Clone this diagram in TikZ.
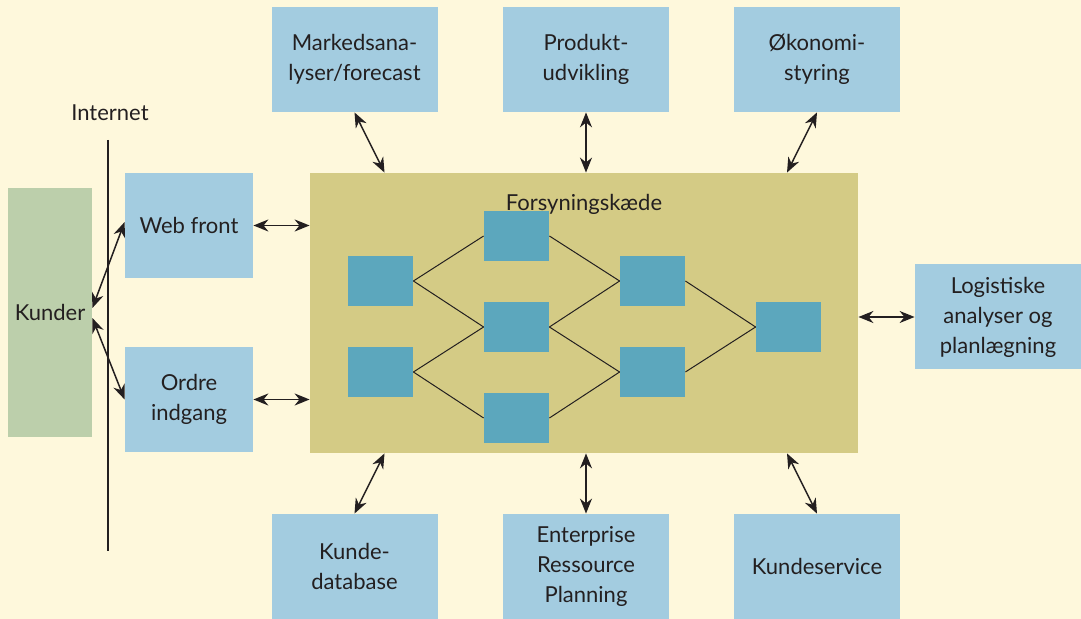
\documentclass[tikz,border=0pt]{standalone}
\usepackage{fontspec}
\setmainfont{Lato}
\usetikzlibrary{arrows.meta}

\definecolor{cream}{HTML}{FEF8DC}
\definecolor{boxblue}{HTML}{A3CCE0}
\definecolor{kundegreen}{HTML}{BCCFAB}
\definecolor{chainolive}{HTML}{D4CB85}
\definecolor{sqblue}{HTML}{5CA7BD}
\definecolor{ink}{HTML}{231F20}

\begin{document}
\begin{tikzpicture}[x=0.5pt,y=-0.5pt,>={Stealth[length=7.5pt,width=6pt]}]
  \useasboundingbox[fill=cream] (0,0) rectangle (1081,619);
  \tikzstyle{every node}=[rectangle,inner sep=0pt,text=ink,align=center,
                          font=\fontsize{11}{15}\selectfont]
  \tikzstyle{infobox}=[fill=boxblue,minimum width=83pt,minimum height=52.5pt]
  \tikzstyle{smallbox}=[fill=boxblue,minimum width=64pt,minimum height=52.5pt]
  \tikzstyle{unit}=[fill=sqblue,minimum width=32.5pt,minimum height=25pt]

%% outer boxes
  \node[infobox] (markeds)  at (354.5,59.5) {Markedsana-\\lyser/forecast};
  \node[infobox] (produkt)  at (586  ,59.5) {Produkt-\\udvikling};
  \node[infobox] (oekonomi) at (817  ,59.5) {Økonomi-\\styring};
  \node[infobox] (kunde-db) at (354.5,566.5) {Kunde-\\database};
  \node[infobox] (erp)      at (586  ,566.5) {Enterprise\\Ressource\\Planning};
  \node[infobox] (service)  at (817  ,566.5) {Kundeservice};
  \node[infobox] (logistik) at (998  ,317) {Logistiske\\analyser og\\planlægning};
  \node[smallbox] (web-front) at (189,225.5) {Web front};
  \node[smallbox] (ordre)     at (189,399.5) {Ordre\\indgang};
  \node[fill=kundegreen,minimum width=42pt,minimum height=124.5pt] (kunder) at (50,312.5) {Kunder};

%% supply chain
  \node[fill=chainolive,minimum width=274pt,minimum height=140pt] (fsk) at (584,313) {};
  \node[below=10.5pt] (fsk-label) at (fsk.north) {Forsyningskæde};
  \node[unit] (sq-l1)  at (380.5,281) {};
  \node[unit] (sq-l2)  at (380.5,372) {};
  \node[unit] (sq-m1)  at (516.5,236) {};
  \node[unit] (sq-m2)  at (516.5,327) {};
  \node[unit] (sq-m3)  at (516.5,418) {};
  \node[unit] (sq-r1)  at (652.5,281) {};
  \node[unit] (sq-r2)  at (652.5,372) {};
  \node[unit] (sq-out) at (788.5,327) {};
  \foreach \a/\b in {sq-l1/sq-m1, sq-l1/sq-m2, sq-l2/sq-m2, sq-l2/sq-m3,
                     sq-m1/sq-r1, sq-m2/sq-r1, sq-m2/sq-r2, sq-m3/sq-r2,
                     sq-r1/sq-out, sq-r2/sq-out}
    \draw[ink,line width=0.5pt] (\a.east) -- (\b.west);

%% internet
  \coordinate (net-top) at (108,140);
  \coordinate (net-bot) at (108,551);
  \draw[ink,line width=0.6pt] (net-top) -- (net-bot);
  \node (net-label) at (110,113) {Internet};

%% connections
  \tikzstyle{link}=[<->,ink,line width=0.75pt]
  \foreach \n/\dx in {markeds/15, produkt/0, oekonomi/-15}
    \draw[link] (\n.south) -- ([xshift=\dx pt] \n.south |- fsk.north);
  \foreach \n/\dx in {kunde-db/15, erp/0, service/-15}
    \draw[link] ([xshift=\dx pt] \n.north |- fsk.south) -- (\n.north);
  \foreach \n in {web-front, ordre}
    \draw[link] (\n.east) -- (\n.east -| fsk.west);
  \draw[link] (logistik.west) -- (logistik.west -| fsk.east);
  \draw[link] ([yshift=2.25pt] kunder.east) -- ([yshift=1.75pt] web-front.west);
  \draw[link] ([yshift=-2.75pt] kunder.east) -- (ordre.west);
\end{tikzpicture}
\end{document}
